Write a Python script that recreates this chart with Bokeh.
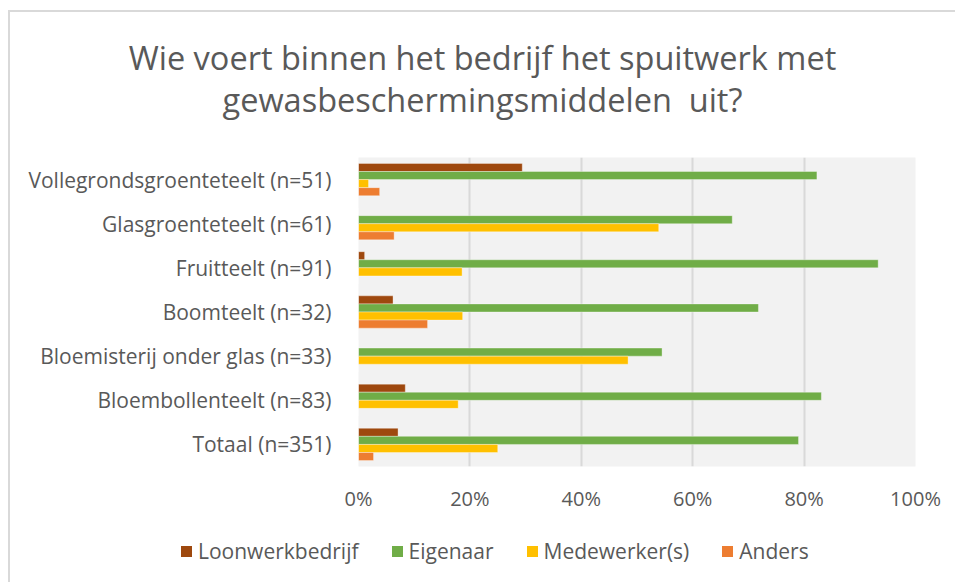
from bokeh.plotting import figure
from bokeh.layouts import column
from bokeh.models import FactorRange, Range1d, FixedTicker, PrintfTickFormatter, Div
from bokeh.transform import dodge
from bokeh.embed import file_html
from bokeh.resources import INLINE

categories = ["Vollegrondsgroenteteelt (n=51)", "Glasgroenteteelt (n=61)",
              "Fruitteelt (n=91)", "Boomteelt (n=32)",
              "Bloemisterij onder glas (n=33)", "Bloembollenteelt (n=83)",
              "Totaal (n=351)"]
series_names = ["Loonwerkbedrijf", "Eigenaar", "Medewerker(s)", "Anders"]
loonwerk = [29.4, 0.0, 1.1, 6.2, 0.0, 8.4, 7.1]
eigenaar = [82.3, 67.1, 93.3, 71.8, 54.5, 83.1, 79.0]
medewerker = [1.8, 53.9, 18.6, 18.7, 48.4, 17.9, 25.0]
anders = [3.8, 6.4, 0.0, 12.4, 0.0, 0.0, 2.7]
x_ticks = [0, 20, 40, 60, 80, 100]
title_lines = ["Wie voert binnen het bedrijf het spuitwerk met",
               "gewasbeschermingsmiddelen\u00a0 uit?"]

colors = ["#9E480E", "#70AD47", "#FFC000", "#ED7D31"]
FONT = "Open Sans"
TXT = "#595959"
W = 945

# --- title ---
title_html = (
    f'<div style="width:{W - 17}px;padding-left:17px;padding-top:25px;text-align:center;'
    f'font-family:\'{FONT}\';font-size:32.5px;line-height:42px;color:{TXT};white-space:pre;">'
    + "<br>".join(title_lines) + "</div>")
title_div = Div(text=title_html, width=W, height=145, margin=0)

# --- main chart ---
p = figure(y_range=FactorRange(factors=list(reversed(categories)), range_padding=0),
           x_range=Range1d(0, 100),
           frame_width=557, frame_height=309,
           min_border_left=348, min_border_top=0, min_border_right=W - 348 - 557,
           min_border_bottom=45,
           output_backend="svg", toolbar_location=None)

data = dict(cat=categories, l=loonwerk, e=eigenaar, m=medewerker, a=anders)
bw = 0.183
offsets = [1.5 * bw, 0.5 * bw, -0.5 * bw, -1.5 * bw]
for key, off, col in zip(["l", "e", "m", "a"], offsets, colors):
    p.hbar(y=dodge("cat", off, range=p.y_range), right=key, left=0, height=bw,
           source=data, fill_color=col, line_color="white", line_alpha=0.35, line_width=1)

p.background_fill_color = "#F2F2F2"
p.border_fill_color = "white"
p.outline_line_color = None
p.ygrid.grid_line_color = None
p.xgrid.grid_line_color = "#D9D9D9"
p.xgrid.grid_line_width = 2
p.xaxis.ticker = FixedTicker(ticks=x_ticks)
p.xaxis.formatter = PrintfTickFormatter(format="%d%%")
for ax in (p.xaxis[0], p.yaxis[0]):
    ax.axis_line_color = None
    ax.major_tick_line_color = None
    ax.minor_tick_line_color = None
    ax.major_label_text_font = FONT
    ax.major_label_text_color = TXT
p.xaxis.major_label_text_font_size = "20px"
p.yaxis.major_label_text_font_size = "21px"
p.xaxis.major_label_standoff = 12
p.yaxis.major_label_standoff = 21

# --- legend ---
items_html = "".join(
    f'<span style="display:inline-flex;align-items:center;margin-right:33px;">'
    f'<span style="display:inline-block;width:11px;height:11px;background:{c};margin-right:6px;"></span>'
    f'{n}</span>'
    for n, c in zip(series_names, colors))
legend_html = (
    f'<div style="padding-left:171px;padding-top:23px;display:flex;align-items:center;'
    f'font-family:\'{FONT}\';font-size:21px;line-height:28px;color:{TXT};white-space:nowrap;">'
    + items_html + "</div>")
legend_div = Div(text=legend_html, width=W, height=68, margin=0)

layout = column(title_div, p, legend_div, spacing=0,
                styles={"margin-left": "8px", "margin-top": "10px",
                        "border-left": "2px solid #D9D9D9", "border-top": "2px solid #D9D9D9"})

open("out.html", "w").write(file_html(layout, INLINE))
